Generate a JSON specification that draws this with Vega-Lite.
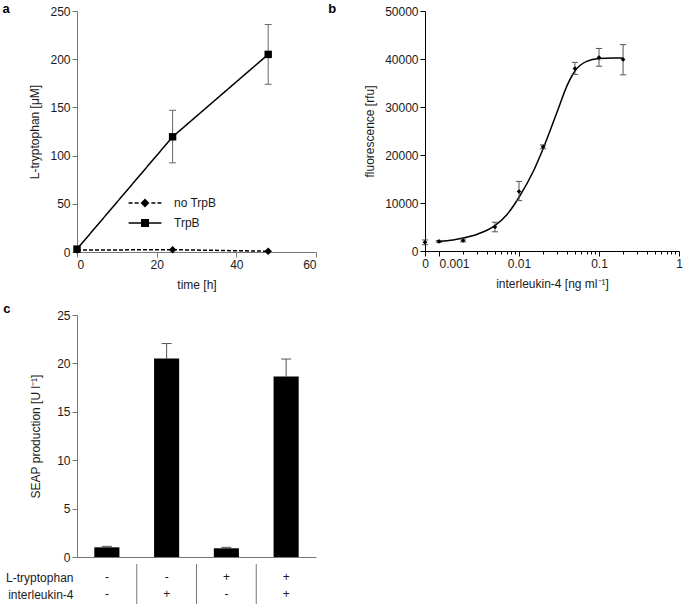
{
  "$schema": "https://vega.github.io/schema/vega-lite/v6.json",
  "padding": {"left": 2, "top": 3, "right": 0, "bottom": 0},
  "background": "white",
  "config": {
    "font": "Liberation Sans",
    "view": {"stroke": null},
    "axis": {
      "grid": false,
      "labelFontSize": 12,
      "titleFontSize": 12,
      "titleFontWeight": "normal",
      "labelColor": "#1a1a1a",
      "titleColor": "#1a1a1a",
      "domainColor": "#777777",
      "tickColor": "#777777",
      "tickSize": 5,
      "labelPadding": 2
    },
    "title": {"fontSize": 13, "fontWeight": "bold", "orient": "left", "anchor": "end", "angle": 0, "align": "right", "baseline": "alphabetic", "color": "#000000", "frame": "group"}
  },
  "datasets": {
    "trp": [
      {"series": "no TrpB", "time": 0, "value": 2.0},
      {"series": "no TrpB", "time": 24, "value": 2.4},
      {"series": "no TrpB", "time": 48, "value": 0.8},
      {"series": "TrpB", "time": 0, "value": 3.0},
      {"series": "TrpB", "time": 24, "value": 119.5, "lo": 92.5, "hi": 147},
      {"series": "TrpB", "time": 48, "value": 205, "lo": 174, "hi": 236}
    ],
    "il4": [
      {"conc": 0, "f": 1800, "lo": 1300, "hi": 2300},
      {"conc": 0.001, "f": 2000, "lo": 1800, "hi": 2200},
      {"conc": 0.002, "f": 2200, "lo": 1900, "hi": 2500},
      {"conc": 0.005, "f": 5000, "lo": 4000, "hi": 6000},
      {"conc": 0.01, "f": 12400, "lo": 10500, "hi": 14500},
      {"conc": 0.02, "f": 21700, "lo": 21300, "hi": 22100},
      {"conc": 0.05, "f": 38000, "lo": 36800, "hi": 39300},
      {"conc": 0.1, "f": 40300, "lo": 38500, "hi": 42200},
      {"conc": 0.2, "f": 39900, "lo": 36700, "hi": 43000}
    ],
    "fit": [
      {"conc": 0.001, "f": 2000},
      {"conc": 0.0015, "f": 2300},
      {"conc": 0.002, "f": 2700},
      {"conc": 0.003, "f": 3500},
      {"conc": 0.005, "f": 5300},
      {"conc": 0.007, "f": 7500},
      {"conc": 0.01, "f": 11200},
      {"conc": 0.015, "f": 16500},
      {"conc": 0.02, "f": 21300},
      {"conc": 0.03, "f": 29000},
      {"conc": 0.04, "f": 34500},
      {"conc": 0.05, "f": 37500},
      {"conc": 0.07, "f": 39500},
      {"conc": 0.1, "f": 40100},
      {"conc": 0.15, "f": 40200},
      {"conc": 0.2, "f": 40200}
    ],
    "seap": [
      {"cond": "1", "L-tryptophan": "-", "interleukin-4": "-", "value": 1.0, "hi": 1.1},
      {"cond": "2", "L-tryptophan": "-", "interleukin-4": "+", "value": 20.5, "hi": 22.05},
      {"cond": "3", "L-tryptophan": "+", "interleukin-4": "-", "value": 0.9, "hi": 1.0},
      {"cond": "4", "L-tryptophan": "+", "interleukin-4": "+", "value": 18.65, "hi": 20.45}
    ]
  },
  "spacing": 12,
  "vconcat": [
    {
      "spacing": 11,
      "hconcat": [
        {
          "title": {"text": "a", "offset": 12, "dy": -8},
          "width": 239,
          "height": 241,
          "data": {"name": "trp"},
          "resolve": {"scale": {"shape": "independent"}},
          "encoding": {
            "x": {"field": "time", "type": "quantitative", "title": "time [h]", "scale": {"domain": [0, 60], "padding": 0, "nice": false}, "axis": {"values": [0, 20, 40, 60], "titlePadding": 9}}
          },
          "layer": [
            {
              "mark": {"type": "rule", "color": "#666666", "strokeWidth": 1},
              "encoding": {
                "y": {"field": "lo", "type": "quantitative", "title": "L-tryptophan [μM]"},
                "y2": {"field": "hi"}
              }
            },
            {
              "mark": {"type": "point", "shape": "stroke", "color": "#666666", "strokeWidth": 1, "size": 49, "opacity": 1},
              "encoding": {
                "y": {"field": "lo", "type": "quantitative", "title": "L-tryptophan [μM]"}
              }
            },
            {
              "mark": {"type": "point", "shape": "stroke", "color": "#666666", "strokeWidth": 1, "size": 49, "opacity": 1},
              "encoding": {
                "y": {"field": "hi", "type": "quantitative", "title": "L-tryptophan [μM]"}
              }
            },
            {
              "mark": {"type": "line", "color": "black", "strokeWidth": 1.5},
              "encoding": {
                "y": {"field": "value", "type": "quantitative", "title": "L-tryptophan [μM]", "scale": {"domain": [0, 250], "padding": 0, "nice": false}, "axis": {"values": [0, 50, 100, 150, 200, 250], "titlePadding": 8}},
                "strokeDash": {
                  "field": "series", "type": "nominal", "sort": ["no TrpB", "TrpB"],
                  "scale": {"range": [[4, 2], [1, 0]]},
                  "legend": null
                }
              }
            },
            {
              "mark": {"type": "point", "filled": true, "color": "black", "opacity": 1},
              "encoding": {
                "y": {"field": "value", "type": "quantitative", "title": "L-tryptophan [μM]"},
                "size": {"value": 55},
                "shape": {
                  "field": "series", "type": "nominal",
                  "scale": {"domain": ["no TrpB", "TrpB"], "range": ["diamond", "square"]},
                  "legend": null
                }
              }
            },
            {
              "mark": {"type": "point", "filled": true, "color": "black", "opacity": 0},
              "encoding": {
                "y": {"field": "value", "type": "quantitative", "title": "L-tryptophan [μM]"},
                "size": {"value": 64},
                "shape": {
                  "field": "series", "type": "nominal",
                  "scale": {"domain": ["no TrpB", "TrpB"], "range": ["M-4.1,-0.19H-3.1V0.19H-4.1ZM-2.6,-0.19H-1.6V0.19H-2.6ZM1.6,-0.19H2.6V0.19H1.6ZM3.1,-0.19H4.1V0.19H3.1ZM0,-1.1L1.1,0L0,1.1L-1.1,0Z", "M-4.1,-0.19H4.1V0.19H-4.1ZM-1,-1H1V1H-1Z"]},
                  "legend": {"orient": "none", "legendX": 62, "legendY": 186, "title": null, "symbolSize": 64, "symbolOpacity": 1, "symbolFillColor": "black", "symbolStrokeWidth": 0, "labelFontSize": 12, "labelColor": "#1a1a1a", "labelOffset": 23, "rowPadding": 8, "padding": 0}
                }
              }
            }
          ]
        },
        {
          "title": {"text": "b", "offset": 19.5, "dy": -8},
          "width": 254,
          "height": 240,
          "encoding": {
            "x": {
              "field": "conc", "type": "quantitative",
              "title": "interleukin-4 [ng ml⁻¹]",
              "scale": {"type": "log", "domain": [0.000668, 1], "clamp": true, "nice": false},
              "axis": {
                "titlePadding": 9,
                "domainColor": "black",
                "tickColor": "black",
                "values": [0.000668, 0.001, 0.002, 0.003, 0.004, 0.005, 0.006, 0.007, 0.008, 0.009, 0.01, 0.02, 0.03, 0.04, 0.05, 0.06, 0.07, 0.08, 0.09, 0.1, 0.2, 0.3, 0.4, 0.5, 0.6, 0.7, 0.8, 0.9, 1],
                "labelExpr": "datum.value < 0.0009 ? '0' : (abs(log(datum.value)/LN10 - round(log(datum.value)/LN10)) < 0.001 ? format(datum.value, '~g') : '')",
                "labelAlign": {"condition": {"test": "datum.value > 0.0009 && datum.value < 0.0011", "value": "left"}, "value": "center"},
                "tickSize": {"condition": {"test": "datum.value < 0.0009 || abs(log(datum.value)/LN10 - round(log(datum.value)/LN10)) < 0.001", "value": 5}, "value": 3},
                "labelFlush": false,
                "labelOverlap": false
              }
            }
          },
          "layer": [
            {
              "data": {"name": "fit"},
              "mark": {"type": "line", "color": "black", "strokeWidth": 1.5, "interpolate": "monotone"},
              "encoding": {
                "y": {
                  "field": "f", "type": "quantitative",
                  "title": "fluorescence [rfu]",
                  "scale": {"domain": [0, 50000], "nice": false},
                  "axis": {"values": [0, 10000, 20000, 30000, 40000, 50000], "format": "d", "titlePadding": 8, "domainColor": "black", "tickColor": "black"}
                }
              }
            },
            {
              "data": {"name": "il4"},
              "mark": {"type": "rule", "color": "#555555", "strokeWidth": 1, "invalid": "show"},
              "encoding": {
                "y": {"field": "lo", "type": "quantitative", "title": "fluorescence [rfu]"},
                "y2": {"field": "hi"}
              }
            },
            {
              "data": {"name": "il4"},
              "mark": {"type": "point", "shape": "stroke", "color": "#555555", "strokeWidth": 1, "size": 40, "opacity": 1, "invalid": "show"},
              "encoding": {
                "y": {"field": "lo", "type": "quantitative", "title": "fluorescence [rfu]"}
              }
            },
            {
              "data": {"name": "il4"},
              "mark": {"type": "point", "shape": "stroke", "color": "#555555", "strokeWidth": 1, "size": 40, "opacity": 1, "invalid": "show"},
              "encoding": {
                "y": {"field": "hi", "type": "quantitative", "title": "fluorescence [rfu]"}
              }
            },
            {
              "data": {"name": "il4"},
              "mark": {"type": "point", "shape": "diamond", "filled": true, "color": "black", "size": 22, "opacity": 1, "invalid": "show"},
              "encoding": {
                "y": {"field": "f", "type": "quantitative", "title": "fluorescence [rfu]"}
              }
            }
          ]
        }
      ]
    },
    {
      "spacing": 0,
      "vconcat": [
        {
          "title": {"text": "c", "offset": 12, "dy": -12.5},
          "width": 239,
          "height": 242,
          "data": {"name": "seap"},
          "encoding": {
            "x": {"field": "cond", "type": "nominal", "title": null, "scale": {"paddingInner": 0.58, "paddingOuter": 0.29}, "axis": {"labels": false, "ticks": false}}
          },
          "layer": [
            {
              "mark": {"type": "rule", "color": "#555555", "strokeWidth": 1},
              "encoding": {
                "y": {"field": "value", "type": "quantitative", "title": "SEAP production [U l⁻¹]"},
                "y2": {"field": "hi"}
              }
            },
            {
              "mark": {"type": "point", "shape": "stroke", "color": "#555555", "strokeWidth": 1, "size": 100, "opacity": 1},
              "encoding": {
                "y": {"field": "hi", "type": "quantitative", "title": "SEAP production [U l⁻¹]"}
              }
            },
            {
              "mark": {"type": "bar", "color": "black"},
              "encoding": {
                "y": {"field": "value", "type": "quantitative", "title": "SEAP production [U l⁻¹]", "scale": {"domain": [0, 25], "padding": 0, "nice": false}, "axis": {"values": [0, 5, 10, 15, 20, 25], "titlePadding": 14}}
              }
            }
          ]
        },
        {
          "width": 239,
          "height": 41,
          "data": {"name": "seap"},
          "layer": [
            {
              "transform": [{"fold": ["L-tryptophan", "interleukin-4"], "as": ["row", "sign"]}],
              "mark": {"type": "text", "fontSize": 12, "color": "#1a1a1a"},
              "encoding": {
                "x": {"field": "cond", "type": "nominal", "scale": {"paddingInner": 0, "paddingOuter": 0}, "axis": null},
                "y": {"field": "row", "type": "nominal", "sort": ["L-tryptophan", "interleukin-4"], "scale": {"type": "point", "padding": 0.706, "align": 0.542}, "axis": {"domain": false, "ticks": false, "title": null, "labelPadding": 4, "labelFontSize": 12}},
                "text": {"field": "sign"}
              }
            },
            {
              "transform": [{"filter": "datum.cond != '1'"}],
              "mark": {"type": "rule", "color": "#777777", "strokeWidth": 1},
              "encoding": {
                "x": {"field": "cond", "type": "nominal", "bandPosition": 0}
              }
            }
          ]
        }
      ]
    }
  ]
}
